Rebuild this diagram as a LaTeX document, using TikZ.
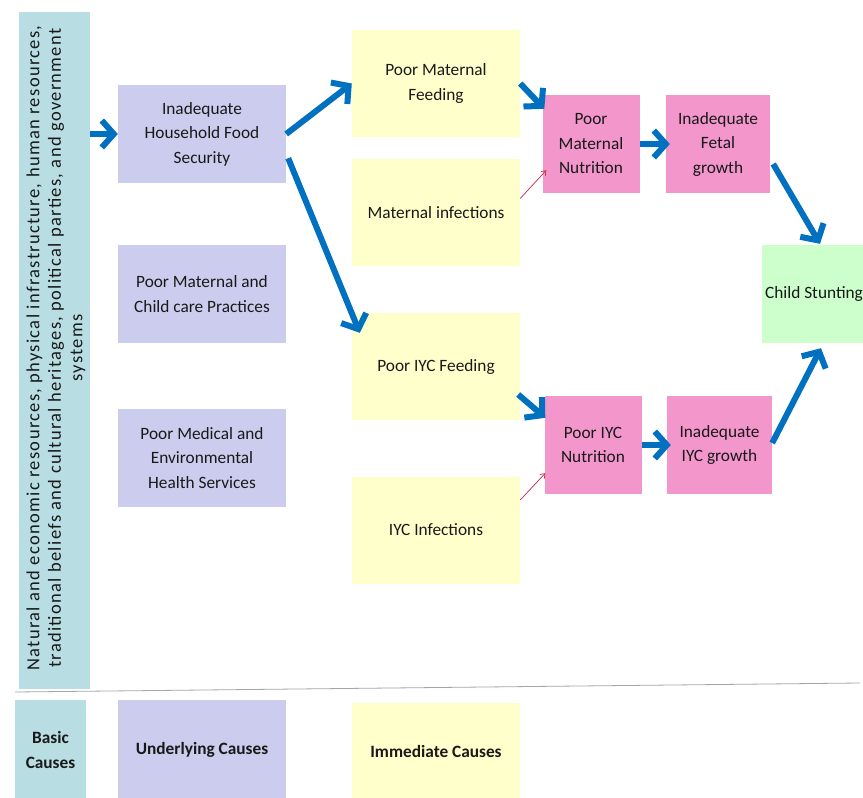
\documentclass[tikz,border=0pt]{standalone}
\usepackage{fontspec}
\setmainfont{Carlito}
\newfontfamily\barfont{Carlito}[LetterSpace=7]
\usetikzlibrary{arrows.meta,calc}
\definecolor{cteal}{RGB}{184,222,228}
\definecolor{clav}{RGB}{204,204,238}
\definecolor{cyel}{RGB}{255,255,204}
\definecolor{cpink}{RGB}{242,150,204}
\definecolor{cgreen}{RGB}{204,255,204}
\definecolor{cblue}{RGB}{0,112,192}
\definecolor{cred}{RGB}{200,40,70}
\definecolor{ctext}{RGB}{25,25,25}
\begin{document}
\begin{tikzpicture}[x=1pt,y=-1pt,
  box/.style={rectangle, inner sep=0pt, align=center, text=ctext,
    font=\fontsize{17.3}{24.5}\selectfont},
  lav/.style={box, fill=clav, minimum width=168pt, minimum height=98pt},
  yel/.style={box, fill=cyel, minimum width=168pt, minimum height=107pt},
  pink/.style={box, fill=cpink, minimum width=97pt, minimum height=98pt},
  bold/.style={font=\fontsize{17.3}{24.5}\selectfont\bfseries},
  barrow/.style={draw=cblue, line width=6pt, -{Straight Barb[length=12pt,width=27pt]}},
  rarrow/.style={draw=cred, line width=0.7pt, -{Straight Barb[length=4pt,width=6pt]}}]
\useasboundingbox (0,0) rectangle (863,798);
\fill[white] (0,0) rectangle (863,798);
% basic bar
\node[rectangle, fill=cteal, minimum width=71pt, minimum height=677pt, inner sep=0pt] (bar) at (54.5,350.5) {};
\node[rotate=90, align=center, text=ctext, inner sep=0pt,
  font=\barfont\fontsize{18.5}{21.5}\selectfont] (bartext) at (56,348)
  {Natural and economic resources, physical infrastructure, human resources,\\
   traditional beliefs and cultural heritages, political parties, and government\\
   systems};
% underlying
\node[lav] (food) at (202,134) {Inadequate\\Household Food\\Security};
\node[lav] (care) at (202,294) {Poor Maternal and\\Child care Practices};
\node[lav] (med) at (202,458) {Poor Medical and\\Environmental\\Health Services};
% immediate
\node[yel] (pmf) at (436,83.5) {Poor Maternal\\Feeding};
\node[yel] (mi) at (436,212.5) {Maternal infections};
\node[yel] (pif) at (436,366.5) {Poor IYC Feeding};
\node[yel] (ii) at (436,530) {IYC Infections};
% outcomes
\node[pink] (pmn) at (591,144) {Poor\\Maternal\\Nutrition};
\node[pink, minimum width=104pt] (ifg) at (718,144) {Inadequate\\Fetal\\growth};
\node[pink] (pin) at (593,445) {Poor IYC\\Nutrition};
\node[pink, minimum width=105pt] (iig) at (719.5,445) {Inadequate\\IYC growth};
\node[box, fill=cgreen, minimum width=104pt, minimum height=98pt] (cs) at (814,294) {Child Stunting};
% separator
\coordinate (sepL) at (15,692);
\coordinate (sepR) at (860,683);
\draw[black!35, line width=0.8pt] (sepL) -- (sepR);
% legend row
\node[box, fill=cteal, minimum width=71pt, minimum height=100pt, font=\fontsize{17.3}{25}\selectfont\bfseries] (basic) at (50.5,750) {Basic\\Causes};
\node[lav, minimum height=100pt, bold] (under) at (202,750) {Underlying Causes};
\node[yel, minimum height=97pt, bold] (immed) at (436,751.5) {Immediate Causes};
% arrows
\draw[barrow] (bar.east |- food.west) -- (food.west);
\draw[barrow] (food.east) -- (pmf.west);
\draw[barrow] ($(food.south east)+(2,-25)$) -- ($(pif.north west)+(8,20)$);
\draw[barrow] (pmf.east) -- ($(pmn.north west)+(2,14)$);
\draw[barrow] (pmn.east) -- ([xshift=4pt]ifg.west);
\draw[barrow] ($(ifg.east)+(3,20)$) -- ($(cs.north)+(6,-1)$);
\draw[barrow] ($(pif.east)+(-2,28)$) -- ($(pin.north west)+(1,22)$);
\draw[barrow] (pin.east) -- ([xshift=4pt]iig.west);
\draw[barrow] ($(iig.east)+(0,-2)$) -- ($(cs.south)+(7,5)$);
\draw[rarrow] ($(mi.east)+(0,-14)$) -- ($(pmn.south west)+(4,-23)$);
\draw[rarrow] ($(ii.east)+(0,-30)$) -- ($(pin.south west)+(1,-21)$);
\end{tikzpicture}
\end{document}
